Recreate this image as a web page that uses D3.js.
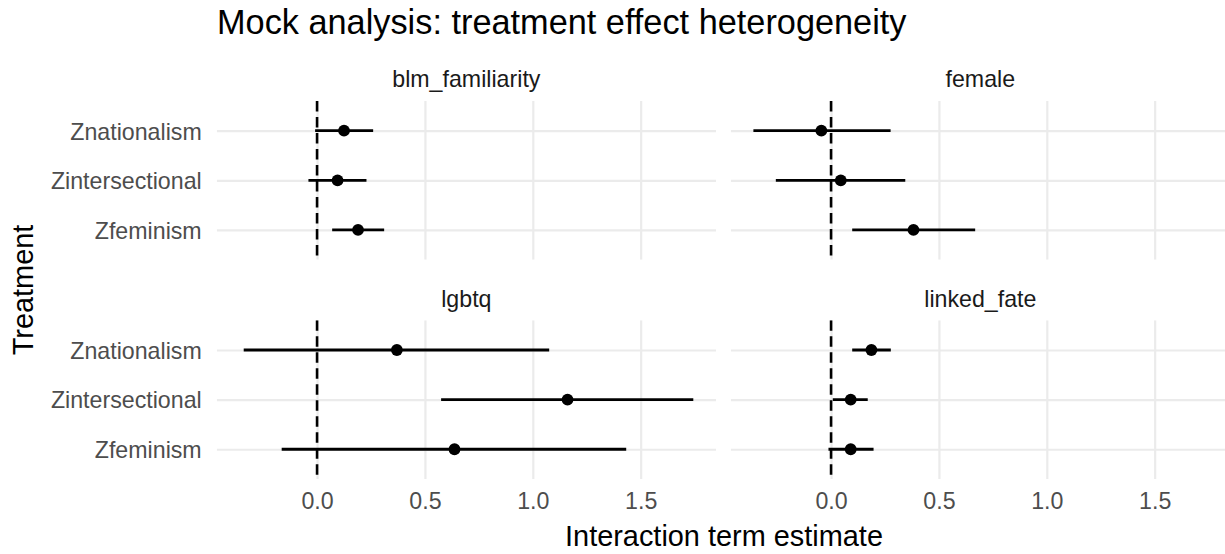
<!DOCTYPE html>
<html>
<head>
<meta charset="utf-8">
<script src="https://cdn.jsdelivr.net/npm/d3@7"></script>
<style>
  html, body { margin: 0; padding: 0; background: #ffffff; }
  svg { display: block; font-family: "Liberation Sans", Arial, Helvetica, sans-serif; }
</style>
</head>
<body>
<svg id="chart" width="1225" height="554"></svg>
<script>
// ---- data ----
const facets = ["blm_familiarity", "female", "lgbtq", "linked_fate"];
const treatments = ["Znationalism", "Zintersectional", "Zfeminism"];
const xTicks = [0, 0.5, 1.0, 1.5];
const xTickLabels = ["0.0", "0.5", "1.0", "1.5"];

// values per facet, in treatment order (Znationalism, Zintersectional, Zfeminism)
const estBlm      = [0.125, 0.095, 0.190];
const lowBlm      = [-0.009, -0.040, 0.070];
const highBlm     = [0.260, 0.229, 0.311];

const estFemale   = [-0.045, 0.045, 0.382];
const lowFemale   = [-0.360, -0.256, 0.098];
const highFemale  = [0.276, 0.344, 0.668];

const estLgbtq    = [0.370, 1.161, 0.637];
const lowLgbtq    = [-0.340, 0.575, -0.164];
const highLgbtq   = [1.076, 1.744, 1.433];

const estLinked   = [0.187, 0.091, 0.091];
const lowLinked   = [0.098, 0.008, -0.012];
const highLinked  = [0.277, 0.170, 0.197];

const titleText = "Mock analysis: treatment effect heterogeneity";
const xTitle = "Interaction term estimate";
const yTitle = "Treatment";

// ---- build rows ----
const seriesByFacet = {
  "blm_familiarity": [estBlm, lowBlm, highBlm],
  "female": [estFemale, lowFemale, highFemale],
  "lgbtq": [estLgbtq, lowLgbtq, highLgbtq],
  "linked_fate": [estLinked, lowLinked, highLinked]
};
const rows = [];
facets.forEach(f => {
  const [e, l, h] = seriesByFacet[f];
  treatments.forEach((t, i) => rows.push({ facet: f, treatment: t, est: e[i], lo: l[i], hi: h[i] }));
});

// ---- layout ----
const svg = d3.select("#chart");
const panelW = 499.3, gapX = 14.7, panelH = 158.8;
const colX = [216.7, 216.7 + panelW + gapX];
const rowY = [100.9, 320.2];

const dmin = d3.min(rows, d => d.lo), dmax = d3.max(rows, d => d.hi);
const pad = (dmax - dmin) * 0.05;
const xDomain = [dmin - pad, dmax + pad];

const gridCol = "#ebebeb";

// title
svg.append("text")
  .attr("x", 217).attr("y", 34)
  .attr("font-size", 34.3).attr("fill", "#000")
  .text(titleText);

facets.forEach((f, idx) => {
  const c = idx % 2, r = Math.floor(idx / 2);
  const x0 = colX[c], y0 = rowY[r];
  const x = d3.scaleLinear().domain(xDomain).range([x0, x0 + panelW]);
  const y = d3.scalePoint().domain(treatments).range([y0, y0 + panelH]).padding(0.6);

  const g = svg.append("g");
  const clipId = "clip" + idx;
  svg.append("clipPath").attr("id", clipId)
    .append("rect").attr("x", x0).attr("y", y0).attr("width", panelW).attr("height", panelH);
  const pg = g.append("g").attr("clip-path", `url(#${clipId})`);

  // gridlines (horizontal)
  pg.append("g").attr("transform", `translate(${x0},0)`)
    .call(d3.axisLeft(y).tickSize(-panelW).tickFormat(""))
    .call(s => s.select(".domain").remove())
    .call(s => s.selectAll("line").attr("stroke", gridCol).attr("stroke-width", 2.2));
  // gridlines (vertical)
  pg.append("g").attr("transform", `translate(0,${y0 + panelH})`)
    .call(d3.axisBottom(x).tickValues(xTicks).tickSize(-panelH).tickFormat(""))
    .call(s => s.select(".domain").remove())
    .call(s => s.selectAll("line").attr("stroke", gridCol).attr("stroke-width", 2.2));

  // reference line at 0
  pg.append("line")
    .attr("x1", x(0)).attr("x2", x(0))
    .attr("y1", y0).attr("y2", y0 + panelH)
    .attr("stroke", "#000").attr("stroke-width", 2.6)
    .attr("stroke-dasharray", "10.5,5.5");

  const data = rows.filter(d => d.facet === f);
  pg.selectAll("line.err").data(data).enter().append("line")
    .attr("class", "err")
    .attr("x1", d => x(d.lo)).attr("x2", d => x(d.hi))
    .attr("y1", d => y(d.treatment)).attr("y2", d => y(d.treatment))
    .attr("stroke", "#000").attr("stroke-width", 2.8);
  pg.selectAll("circle").data(data).enter().append("circle")
    .attr("cx", d => x(d.est)).attr("cy", d => y(d.treatment))
    .attr("r", 5.9).attr("fill", "#000");

  // strip label
  g.append("text")
    .attr("x", x0 + panelW / 2).attr("y", y0 - 13.6)
    .attr("text-anchor", "middle").attr("font-size", 23.2).attr("fill", "#1a1a1a")
    .text(f);

  // y tick labels (left column only)
  if (c === 0) {
    const ya = g.append("g").attr("transform", `translate(${x0},0)`)
      .call(d3.axisLeft(y).tickSize(0).tickPadding(15));
    ya.select(".domain").remove();
    ya.selectAll("text").attr("font-size", 23.2).attr("fill", "#4d4d4d")
      .attr("font-family", "Liberation Sans, Arial, sans-serif").attr("dy", "0.36em");
  }
  // x tick labels (bottom row only)
  if (r === 1) {
    const xa = g.append("g").attr("transform", `translate(0,${y0 + panelH})`)
      .call(d3.axisBottom(x).tickValues(xTicks).tickFormat((d, i) => xTickLabels[i]).tickSize(0).tickPadding(14));
    xa.select(".domain").remove();
    xa.selectAll("text").attr("font-size", 23.2).attr("fill", "#4d4d4d")
      .attr("font-family", "Liberation Sans, Arial, sans-serif").attr("dy", "0.71em");
  }
});

// axis titles
svg.append("text")
  .attr("x", 724).attr("y", 546)
  .attr("text-anchor", "middle").attr("font-size", 28.9).attr("fill", "#000")
  .text(xTitle);
svg.append("text")
  .attr("transform", "translate(33,290) rotate(-90)")
  .attr("text-anchor", "middle").attr("font-size", 28.9).attr("fill", "#000")
  .text(yTitle);
</script>
</body>
</html>
